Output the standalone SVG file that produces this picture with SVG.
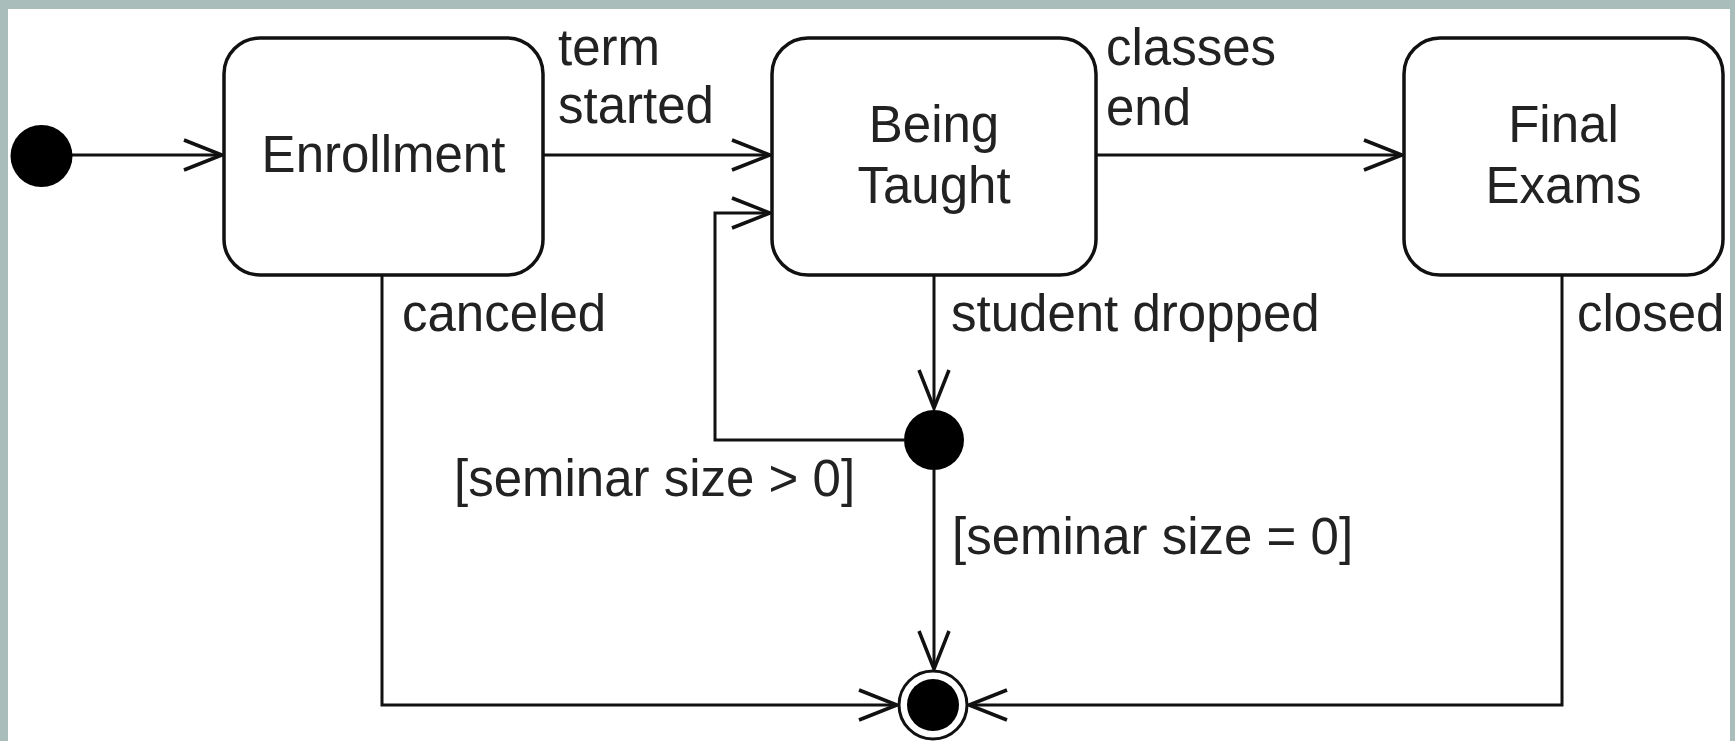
<svg xmlns="http://www.w3.org/2000/svg" width="1735" height="741" viewBox="0 0 1735 741">
  <style>
    .box { fill: #ffffff; stroke: #111111; stroke-width: 3.5; }
    .edge { fill: none; stroke: #111111; stroke-width: 3; }
    .lbl { font-family: "Liberation Sans", Arial, sans-serif; font-size: 51px; fill: #222222; }
    .ctr { text-anchor: middle; }
  </style>
  <defs>
    <marker id="arr" markerUnits="userSpaceOnUse" viewBox="-44 -20 48 40" markerWidth="48" markerHeight="40" refX="0" refY="0" orient="auto" overflow="visible">
      <path d="M-38,-15 L0,0 L-38,15" fill="none" stroke="#111111" stroke-width="3.5" stroke-linejoin="miter"/>
    </marker>
  </defs>
  <rect x="0" y="0" width="1735" height="741" fill="#a9bdbb"/>
  <rect x="8" y="9" width="1722" height="732" fill="#ffffff"/>

  <g id="connectors">
    <path class="edge" d="M72,155 L222,155" marker-end="url(#arr)"/>
    <path class="edge" d="M543,155 L770,155" marker-end="url(#arr)"/>
    <path class="edge" d="M1096,155 L1402,155" marker-end="url(#arr)"/>
    <path class="edge" d="M934,275 L934,408" marker-end="url(#arr)"/>
    <path class="edge" d="M904,440 L715,440 L715,213 L770,213" marker-end="url(#arr)"/>
    <path class="edge" d="M934,470 L934,669" marker-end="url(#arr)"/>
    <path class="edge" d="M382,275 L382,705 L897,705" marker-end="url(#arr)"/>
    <path class="edge" d="M1562,275 L1562,705 L969,705" marker-end="url(#arr)"/>
    <text class="lbl" x="558" y="65">term</text>
    <text class="lbl" x="558" y="123">started</text>
    <text class="lbl" x="1106" y="65">classes</text>
    <text class="lbl" x="1106" y="125">end</text>
    <text class="lbl" x="402" y="331">canceled</text>
    <text class="lbl" x="951" y="331">student dropped</text>
    <text class="lbl" x="1577" y="331">closed</text>
    <text class="lbl" x="454" y="496">[seminar size &gt; 0]</text>
    <text class="lbl" x="952" y="554">[seminar size = 0]</text>
  </g>

  <g id="initial">
    <circle cx="41.5" cy="156" r="31" fill="#000000"/>
  </g>
  <g id="enrollment">
    <rect class="box" x="224" y="38" width="319" height="237" rx="36" ry="36"/>
    <text class="lbl ctr" x="383.5" y="172">Enrollment</text>
  </g>
  <g id="being-taught">
    <rect class="box" x="772" y="38" width="324" height="237" rx="36" ry="36"/>
    <text class="lbl ctr" x="934" y="142">Being</text>
    <text class="lbl ctr" x="934" y="203">Taught</text>
  </g>
  <g id="final-exams">
    <rect class="box" x="1404" y="38" width="319" height="237" rx="36" ry="36"/>
    <text class="lbl ctr" x="1563.5" y="142">Final</text>
    <text class="lbl ctr" x="1563.5" y="203">Exams</text>
  </g>
  <g id="junction">
    <circle cx="934" cy="440" r="30" fill="#000000"/>
  </g>
  <g id="final-state">
    <circle cx="933" cy="705" r="34" fill="#ffffff" stroke="#111111" stroke-width="3"/>
    <circle cx="933" cy="705" r="26" fill="#000000"/>
  </g>
</svg>
